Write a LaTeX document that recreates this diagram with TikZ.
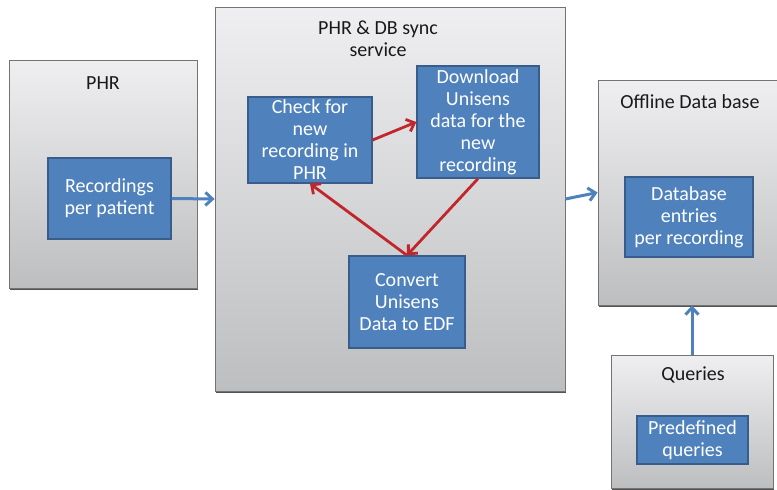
\documentclass[tikz,border=0pt]{standalone}
\usepackage{fontspec}
\setmainfont{Carlito}
\usetikzlibrary{arrows.meta,positioning,shadows}
\definecolor{taskblue}{HTML}{4F81BD}
\definecolor{taskedge}{HTML}{385D8A}
\definecolor{loopred}{HTML}{C0272D}
\definecolor{paneltop}{HTML}{EFEFF1}
\definecolor{panelbot}{HTML}{BDBEC0}

\begin{document}
\begin{tikzpicture}[x=1pt,y=-1pt,font=\fontsize{20}{22}\selectfont,
  panel/.style={draw=black!55,line width=0.8pt,top color=paneltop,bottom color=panelbot,
    inner sep=0,drop shadow={shadow xshift=1.2pt,shadow yshift=-1.5pt,fill=black!75,opacity=0.9}},
  task/.style={draw=taskedge,line width=1.3pt,fill=taskblue,text=white,align=center,inner sep=0},
  heading/.style={align=center,text=black!90},
  flow/.style={-{Straight Barb[length=7pt,width=13pt]},line width=3pt,draw=taskblue},
  loop/.style={-{Straight Barb[length=7pt,width=13pt]},line width=2.8pt,draw=loopred}]
  \useasboundingbox (0,0) rectangle (777,490);

  % outer panels
  \node[panel,minimum width=188,minimum height=228] (phr) at (103,174) {};
  \node[panel,minimum width=350,minimum height=384] (sync) at (390,199) {};
  \node[panel,minimum width=179,minimum height=225] (off) at (687.5,192.5) {};
  \node[panel,minimum width=162,minimum height=133] (qry) at (692,421.5) {};

  \node[heading] (phrtitle) at ([yshift=-23]phr.north) {PHR};
  \node[heading] (synctitle) at (378,39) {PHR \& DB sync\\service};
  \node[heading] (offtitle) at (690,102) {Offline Data base};
  \node[heading] (qrytitle) at (693,375) {Queries};

  % boxes
  \node[task,minimum width=123,minimum height=81] (rec) at (109.5,198.5) {Recordings\\per patient};
  \node[task,minimum width=124,minimum height=86] (check) at (310,140) {Check for\\new\\recording in\\PHR};
  \node[task,minimum width=122,minimum height=112] (dl) at (478,122) {Download\\Unisens\\data for the\\new\\recording};
  \node[task,minimum width=116,minimum height=92] (conv) at (407,302) {Convert\\Unisens\\Data to EDF};
  \node[task,minimum width=128,minimum height=80] (entries) at (689,217) {Database\\entries\\per recording};
  \node[task,minimum width=111,minimum height=48] (predef) at (692.5,440) {Predefined\\queries};

  % data flow
  \draw[flow] (rec.east) -- (sync.west);
  \draw[flow] (sync.east) -- (off.west);
  \draw[flow] (qry.north) -- (qry.north |- off.south);

  % sync cycle
  \draw[loop] (check.east) -- (dl.west);
  \draw[loop] (dl.south) -- (conv.north);
  \draw[loop] (conv.north) -- (check.south);
\end{tikzpicture}
\end{document}
